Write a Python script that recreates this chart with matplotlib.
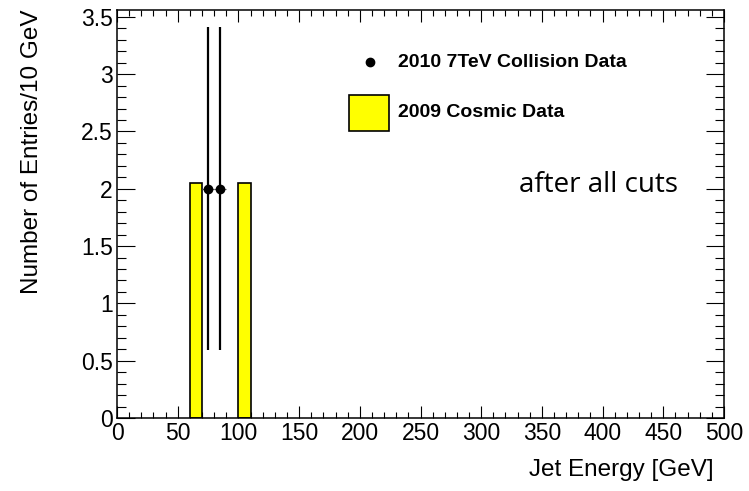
import matplotlib
matplotlib.use("Agg")
import matplotlib.pyplot as plt
from matplotlib.patches import Rectangle
from matplotlib.ticker import MultipleLocator

plt.rcParams['font.family'] = ['Liberation Sans', 'DejaVu Sans']

# --- data ---
cosmic_left = [60, 100]          # bin left edges (GeV)
cosmic_counts = [2.05, 2.05]
bin_width = 10

coll_x = [75, 85]
coll_y = [2, 2]
coll_err = [1.41, 1.41]
coll_xerr = [5, 5]

fig = plt.figure(figsize=(7.49, 4.91), dpi=100)
ax = fig.add_axes([117 / 749, 73 / 491, 607 / 749, 408 / 491])

ax.bar(cosmic_left, cosmic_counts, width=bin_width, align='edge',
       color='#ffff00', edgecolor='black', linewidth=1.2, zorder=2)

# horizontal bin-width bars thinner, vertical errors heavier
ax.errorbar(coll_x, coll_y, xerr=coll_xerr, fmt='none', ecolor='#555555',
            elinewidth=0.8, capsize=0, zorder=3)
ax.errorbar(coll_x, coll_y, yerr=coll_err, fmt='o', color='black',
            markersize=6, elinewidth=1.6, capsize=0, zorder=4)

ax.set_xlim(0, 500)
ax.set_ylim(0, 3.56)

ax.xaxis.set_major_locator(MultipleLocator(50))
ax.xaxis.set_minor_locator(MultipleLocator(10))
ax.yaxis.set_minor_locator(MultipleLocator(0.1))
ax.set_yticks([0, 0.5, 1, 1.5, 2, 2.5, 3, 3.5])
ax.set_yticklabels(['0', '0.5', '1', '1.5', '2', '2.5', '3', '3.5'])

ax.tick_params(axis='both', which='both', direction='in', top=True, right=True,
               width=0.8, labelsize=16.5)
ax.tick_params(axis='x', which='major', length=8.6, pad=3)
ax.tick_params(axis='x', which='minor', length=4.3)
ax.tick_params(axis='y', which='major', length=13, pad=3)
ax.tick_params(axis='y', which='minor', length=6.5)
for s in ax.spines.values():
    s.set_linewidth(1.1)

# legend drawn by hand, ROOT style
ax.plot([0.417], [0.8725], 'o', color='black', markersize=6,
        transform=ax.transAxes, clip_on=False)
ax.text(0.463, 0.8725, '2010 7TeV Collision Data', transform=ax.transAxes,
        fontsize=14, fontweight='bold', va='center', ha='left')
ax.add_patch(Rectangle((0.382, 0.703), 0.066, 0.089, transform=ax.transAxes,
                       facecolor='#ffff00', edgecolor='black', linewidth=1.2))
ax.text(0.463, 0.748, '2009 Cosmic Data', transform=ax.transAxes,
        fontsize=14, fontweight='bold', va='center', ha='left')

ax.text(0.662, 0.571, 'after all cuts', transform=ax.transAxes,
        fontsize=20, family=['Open Sans', 'DejaVu Sans'], va='center', ha='left')

fig.text(32 / 749, 0.98, 'Number of Entries/10 GeV', rotation=90,
         ha='center', va='top', fontsize=17.5)
fig.text(714 / 749, 1 - 470 / 491, 'Jet Energy [GeV]', ha='right',
         va='center', fontsize=17.5)

fig.savefig('out.png', dpi=100)
